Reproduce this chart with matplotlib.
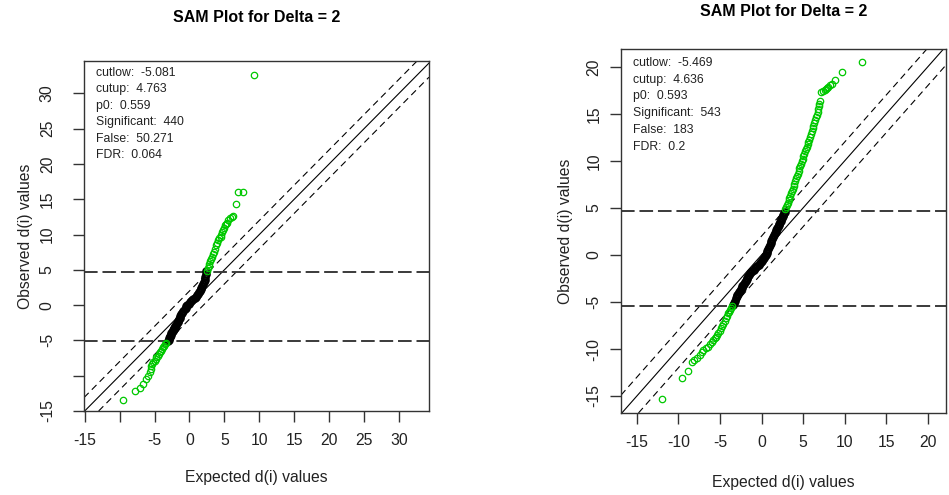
# SAM plots (Delta = 2) for two data sets, side by side
import matplotlib.pyplot as plt

plt.rcParams['font.family'] = ['Liberation Sans', 'DejaVu Sans']

GREEN = '#00c800'

# ---- left panel data ----
left_cutlow = -5.081
left_cutup = 4.763
left_stats = ['cutlow:  -5.081', 'cutup:  4.763', 'p0:  0.559',
              'Significant:  440', 'False:  50.271', 'FDR:  0.064']

left_black_x = [-3.06, -2.98, -2.90, -2.82, -2.74, -2.66, -2.58, -2.50, -2.42, -2.34,
                -2.26, -2.18, -2.10, -2.00, -1.90, -1.80, -1.70, -1.60, -1.50, -1.40,
                -1.30, -1.15, -1.00, -0.85, -0.70, -0.55, -0.43, -0.28, -0.12, 0.05,
                0.22, 0.40, 0.58, 0.76, 0.90, 1.04, 1.18, 1.32, 1.46, 1.60,
                1.72, 1.84, 1.96, 2.06, 2.16, 2.26, 2.36, 2.43]
left_black_y = [-5.06, -4.88, -4.70, -4.52, -4.35, -4.18, -4.00, -3.84, -3.68, -3.52,
                -3.40, -3.28, -3.19, -2.98, -2.78, -2.58, -2.38, -2.18, -1.98, -1.78,
                -1.58, -1.31, -1.06, -0.82, -0.58, -0.34, -0.14, 0.05, 0.22, 0.38,
                0.52, 0.66, 0.82, 1.00, 1.20, 1.40, 1.62, 1.84, 2.04, 2.24,
                2.43, 2.70, 3.00, 3.30, 3.62, 3.96, 4.36, 4.78]

left_up_x = [2.50, 2.62, 2.74, 2.86, 2.98, 3.10, 3.25, 3.40, 3.55, 3.70,
             3.87, 4.00, 4.15, 4.30, 4.45, 4.58, 4.70, 4.85, 5.00, 5.06,
             5.20, 5.35, 5.53, 5.80, 6.05, 6.25, 6.63, 6.96, 7.60, 9.26]
left_up_y = [4.90, 5.20, 5.50, 5.85, 6.20, 6.50, 6.85, 7.20, 7.60, 8.00,
             8.50, 8.85, 9.20, 9.45, 9.70, 9.90, 10.30, 10.70, 11.00, 11.30,
             11.50, 11.70, 12.00, 12.30, 12.55, 12.70, 14.40, 16.00, 16.05, 32.60]

left_low_x = [-3.30, -3.45, -3.60, -3.78, -3.95, -4.10, -4.26, -4.40, -4.55, -4.73,
              -4.85, -5.00, -5.20, -5.30, -5.44, -5.55, -5.69, -5.90, -6.16, -6.65,
              -7.12, -7.84, -9.51]
left_low_y = [-5.30, -5.55, -5.75, -5.98, -6.25, -6.45, -6.70, -6.95, -7.15, -7.40,
              -7.65, -7.85, -8.10, -8.35, -8.58, -9.00, -9.50, -10.00, -10.45, -11.20,
              -11.70, -12.10, -13.40]

left_ticks = [-15, -10, -5, 0, 5, 10, 15, 20, 25, 30]
left_ticklabels = ['-15', '', '-5', '0', '5', '10', '15', '20', '25', '30']

# ---- right panel data ----
right_cutlow = -5.469
right_cutup = 4.636
right_stats = ['cutlow:  -5.469', 'cutup:  4.636', 'p0:  0.593',
               'Significant:  543', 'False:  183', 'FDR:  0.2']

right_black_x = [2.80, 2.72, 2.64, 2.56, 2.48, 2.40, 2.32, 2.24, 2.16, 2.08,
                 2.00, 1.90, 1.80, 1.70, 1.60, 1.50, 1.40, 1.30, 1.20, 1.10,
                 1.00, 0.90, 0.80, 0.70, 0.60, 0.48, 0.36, 0.24, 0.12, 0.00,
                 -0.10, -0.20, -0.35, -0.50, -0.65, -0.80, -0.95, -1.10, -1.25, -1.40,
                 -1.50, -1.60, -1.70, -1.80, -1.90, -2.00, -2.10, -2.20, -2.30, -2.40,
                 -2.50, -2.60, -2.70, -2.80, -2.90, -3.00, -3.10, -3.20, -3.30, -3.40]
right_black_y = [4.60, 4.44, 4.28, 4.12, 3.96, 3.80, 3.64, 3.48, 3.32, 3.16,
                 3.00, 2.82, 2.65, 2.47, 2.30, 2.12, 1.95, 1.73, 1.51, 1.29,
                 1.07, 0.84, 0.62, 0.40, 0.18, 0.02, -0.14, -0.30, -0.46, -0.62,
                 -0.76, -0.90, -1.03, -1.16, -1.29, -1.42, -1.55, -1.68, -1.82, -1.95,
                 -2.11, -2.27, -2.42, -2.58, -2.73, -2.89, -3.04, -3.20, -3.35, -3.50,
                 -3.65, -3.80, -3.95, -4.10, -4.25, -4.40, -4.62, -4.85, -5.08, -5.30]

right_up_x = [2.85, 2.95, 3.05, 3.15, 3.25, 3.35, 3.45, 3.55, 3.65, 3.75,
              3.85, 3.95, 4.05, 4.15, 4.25, 4.35, 4.45, 4.55, 4.65, 4.75,
              4.85, 4.95, 5.05, 5.15, 5.25, 5.35, 5.45, 5.55, 5.65, 5.75,
              5.85, 5.95, 6.05, 6.15, 6.25, 6.35, 6.45, 6.55, 6.65, 6.75,
              6.85, 6.90, 6.95, 7.00, 7.20, 7.41, 7.60, 7.74, 7.90, 8.00,
              8.20, 8.42, 8.82, 9.70, 12.03]
right_up_y = [4.90, 5.12, 5.34, 5.56, 5.80, 6.05, 6.30, 6.55, 6.80, 7.05,
              7.30, 7.55, 7.85, 8.15, 8.40, 8.65, 8.95, 9.20, 9.45, 9.70,
              10.00, 10.25, 10.50, 10.75, 11.00, 11.25, 11.50, 11.75, 12.00, 12.25,
              12.55, 12.85, 13.15, 13.45, 13.75, 14.05, 14.35, 14.65, 14.90, 15.20,
              15.50, 15.80, 16.10, 16.40, 17.30, 17.40, 17.55, 17.60, 17.80, 17.90,
              18.05, 18.20, 18.55, 19.40, 20.56]

right_low_x = [-3.50, -3.62, -3.74, -3.86, -4.00, -4.15, -4.30, -4.45, -4.60, -4.75,
               -4.90, -5.05, -5.20, -5.35, -5.50, -5.65, -5.80, -6.00, -6.20, -6.40,
               -6.70, -7.00, -7.20, -7.40, -7.80, -8.10, -8.40, -8.80, -9.60, -12.00]
right_low_y = [-5.45, -5.65, -5.85, -6.02, -6.20, -6.45, -6.75, -7.00, -7.30, -7.55,
               -7.80, -8.05, -8.30, -8.50, -8.70, -8.85, -9.00, -9.25, -9.50, -9.75,
               -9.90, -10.10, -10.35, -10.60, -11.00, -11.20, -11.35, -12.30, -13.05, -15.30]

right_ticks = [-15, -10, -5, 0, 5, 10, 15, 20]
right_ticklabels = ['-15', '-10', '-5', '0', '5', '10', '15', '20']


def sam_panel(ax, bx, by, ux, uy, lx, ly, cutlow, cutup, stats, lims,
              ticks, ticklabels, ypad, stat_x, stat_y0, stat_dy):
    ax.set_xlim(lims[0])
    ax.set_ylim(lims[1])

    # reference lines
    ax.axline((0, 0), slope=1, color='black', lw=0.8)
    ax.axline((0, 2), slope=1, color='black', lw=0.8, linestyle=(0, (6, 4)))
    ax.axline((0, -2), slope=1, color='black', lw=0.8, linestyle=(0, (6, 4)))
    ax.axhline(cutup, color='#3a3a3a', lw=1.4, linestyle=(0, (7, 2.5)))
    ax.axhline(cutlow, color='#3a3a3a', lw=1.4, linestyle=(0, (7, 2.5)))

    mk = dict(marker='o', linestyle='none', markerfacecolor='none',
              markersize=4.6, markeredgewidth=0.9)
    ax.plot(bx, by, color='black', **dict(mk, markeredgewidth=1.6))
    ax.plot(ux, uy, color=GREEN, **mk)
    ax.plot(lx, ly, color=GREEN, **mk)

    for i, s in enumerate(stats):
        ax.text(stat_x, stat_y0 - i * stat_dy, s, transform=ax.transAxes,
                fontsize=8.8, ha='left', va='center', color='#222222')

    ax.set_xticks(ticks)
    ax.set_xticklabels(ticklabels)
    ax.set_yticks(ticks)
    ax.set_yticklabels(ticklabels, rotation=90, va='center')
    ax.tick_params(axis='both', length=8, width=1, color='#333333',
                   labelsize=11.3, labelcolor='#222222')
    ax.tick_params(axis='x', pad=8)
    ax.tick_params(axis='y', pad=ypad)
    for sp in ax.spines.values():
        sp.set_color('#333333')
        sp.set_linewidth(1)


fig = plt.figure(figsize=(9.49, 4.95), dpi=100)

ax1 = fig.add_axes([0.0885, 0.1697, 0.3635, 0.7071])
sam_panel(ax1, left_black_x, left_black_y, left_up_x, left_up_y,
          left_low_x, left_low_y, left_cutlow, left_cutup, left_stats,
          ((-15.1, 34.3), (-15.0, 34.6)), left_ticks, left_ticklabels,
          ypad=13, stat_x=0.035, stat_y0=0.966, stat_dy=0.047)
ax1.set_xlabel('Expected d(i) values', fontsize=11.3, color='#222222', labelpad=16)
ax1.set_ylabel('Observed d(i) values', fontsize=11.3, color='#222222', labelpad=5)
ax1.set_title('SAM Plot for Delta = 2', fontsize=11.5, fontweight='bold', pad=28)

ax2 = fig.add_axes([0.6544, 0.1657, 0.3425, 0.7354])
sam_panel(ax2, right_black_x, right_black_y, right_up_x, right_up_y,
          right_low_x, right_low_y, right_cutlow, right_cutup, right_stats,
          ((-16.9, 22.2), (-16.8, 21.9)), right_ticks, right_ticklabels,
          ypad=6, stat_x=0.037, stat_y0=0.962, stat_dy=0.046)
ax2.set_xlabel('Expected d(i) values', fontsize=11.3, color='#222222', labelpad=18)
ax2.set_ylabel('Observed d(i) values', fontsize=11.3, color='#222222', labelpad=10)
ax2.set_title('SAM Plot for Delta = 2', fontsize=11.5, fontweight='bold', pad=24)

fig.savefig('out.png', dpi=100)
